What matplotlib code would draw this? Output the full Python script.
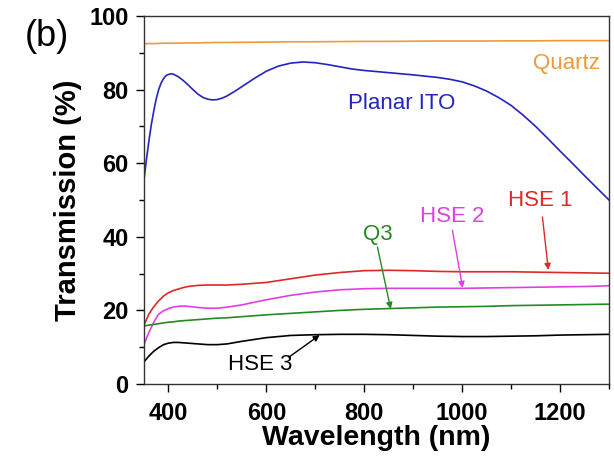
import matplotlib
matplotlib.use("Agg")
import matplotlib.pyplot as plt
from matplotlib.ticker import MultipleLocator

plt.rcParams['font.family'] = ['Liberation Sans', 'DejaVu Sans']

# wavelength grid (nm) for the sample curves
wavelength = [350, 360, 370, 380, 390, 400, 410, 420, 430, 440, 460, 480, 500, 520, 550,
              600, 650, 700, 750, 800, 850, 900, 950, 1000, 1050, 1100, 1150, 1200, 1250, 1300]

# transmission (%)
quartz = [92.5, 92.5, 92.5, 92.55, 92.6, 92.6, 92.6, 92.65, 92.65, 92.7, 92.7, 92.75, 92.8, 92.8, 92.85,
          92.9, 93.0, 93.0, 93.05, 93.1, 93.1, 93.15, 93.2, 93.2, 93.2, 93.25, 93.25, 93.3, 93.3, 93.3]
hse1 = [16.0, 19.0, 21.0, 22.6, 23.9, 24.8, 25.4, 25.8, 26.2, 26.5, 26.8, 26.9, 26.9, 26.9, 27.1,
        27.6, 28.6, 29.6, 30.3, 30.8, 30.9, 30.8, 30.6, 30.5, 30.5, 30.5, 30.4, 30.3, 30.2, 30.1]
hse2 = [10.8, 14.0, 16.8, 19.0, 19.9, 20.5, 20.9, 21.1, 21.2, 21.1, 20.8, 20.6, 20.6, 20.9, 21.5,
        22.9, 24.1, 25.0, 25.6, 25.9, 26.0, 26.0, 26.0, 26.0, 26.1, 26.2, 26.3, 26.4, 26.5, 26.7]
q3 = [15.8, 16.0, 16.2, 16.4, 16.6, 16.8, 16.9, 17.1, 17.2, 17.3, 17.5, 17.7, 17.9, 18.0, 18.3,
      18.8, 19.2, 19.6, 20.0, 20.3, 20.5, 20.7, 20.9, 21.0, 21.1, 21.3, 21.4, 21.5, 21.6, 21.7]
hse3 = [6.0, 7.6, 8.9, 9.9, 10.7, 11.1, 11.3, 11.3, 11.2, 11.1, 10.9, 10.7, 10.7, 10.9, 11.6,
        12.6, 13.2, 13.4, 13.5, 13.5, 13.4, 13.2, 13.0, 12.9, 12.9, 13.0, 13.1, 13.3, 13.4, 13.5]

# planar ITO read on a finer grid (curvy)
ito_wavelength = [350, 355, 360, 365, 370, 375, 380, 385, 390, 395, 400, 405, 410, 420, 430, 440,
                  450, 460, 470, 480, 490, 500, 510, 520, 535, 550, 575, 600, 625, 650, 675, 700,
                  725, 750, 775, 800, 850, 900, 950, 975, 1000, 1025, 1050, 1075, 1100, 1125,
                  1150, 1175, 1200, 1225, 1250, 1275, 1300]
planar_ito = [55.5, 61.0, 66.0, 70.5, 74.2, 77.5, 80.0, 81.8, 83.0, 83.8, 84.1, 84.3, 84.2, 83.5, 82.5, 81.3,
              80.0, 78.8, 77.9, 77.4, 77.2, 77.3, 77.7, 78.3, 79.5, 80.8, 83.0, 85.0, 86.4, 87.2, 87.5, 87.3,
              86.8, 86.2, 85.6, 85.2, 84.6, 84.0, 83.3, 82.8, 82.1, 81.0, 79.6, 77.8, 75.7, 73.0,
              70.0, 66.7, 63.3, 60.0, 56.6, 53.3, 50.0]

c_quartz = '#EE9A3A'
c_ito = '#2424C0'
c_hse1 = '#E02828'
c_hse2 = '#E040E0'
c_q3 = '#228B22'
c_hse3 = 'black'

fig = plt.figure(figsize=(6.14, 4.57), dpi=100)
ax = fig.add_axes([0.2345, 0.1597, 0.7574, 0.8053])

lw = 1.2
ax.plot(wavelength, quartz, color=c_quartz, lw=lw)
ax.plot(ito_wavelength, planar_ito, color=c_ito, lw=lw)
ax.plot(wavelength, hse1, color=c_hse1, lw=lw)
ax.plot(wavelength, hse2, color=c_hse2, lw=lw)
ax.plot(wavelength, q3, color=c_q3, lw=lw)
ax.plot(wavelength, hse3, color=c_hse3, lw=lw)

# curve labels
ax.text(1213, 87, 'Quartz', color=c_quartz, fontsize=16, ha='center', va='center')
ax.text(876, 76.1, 'Planar ITO', color=c_ito, fontsize=16, ha='center', va='center')

arrow_kw = dict(arrowstyle='-|>', lw=1.0, mutation_scale=9, shrinkA=0, shrinkB=0)
ax.text(1160, 50.0, 'HSE 1', color=c_hse1, fontsize=16, ha='center', va='center')
ax.annotate('', xy=(1176, 31.0), xytext=(1164, 45.4),
            arrowprops=dict(color=c_hse1, **arrow_kw))
ax.text(980, 45.6, 'HSE 2', color=c_hse2, fontsize=16, ha='center', va='center')
ax.annotate('', xy=(1001, 26.1), xytext=(980, 41.8),
            arrowprops=dict(color=c_hse2, **arrow_kw))
ax.text(827, 40.5, 'Q3', color=c_q3, fontsize=16, ha='center', va='center')
ax.annotate('', xy=(854, 20.4), xytext=(827, 37.2),
            arrowprops=dict(color=c_q3, **arrow_kw))
ax.text(587, 5.2, 'HSE 3', color=c_hse3, fontsize=16, ha='center', va='center')
ax.annotate('', xy=(709, 13.3), xytext=(646, 7.3),
            arrowprops=dict(color=c_hse3, **arrow_kw))

ax.set_xlim(350, 1300)
ax.set_ylim(0, 100)
ax.xaxis.set_major_locator(MultipleLocator(200))
ax.xaxis.set_minor_locator(MultipleLocator(100))
ax.yaxis.set_major_locator(MultipleLocator(20))
ax.yaxis.set_minor_locator(MultipleLocator(10))
ax.tick_params(which='major', direction='out', length=6, width=1, labelsize=17)
ax.tick_params(which='minor', direction='out', length=3.5, width=1)
ax.tick_params(axis='x', which='major', pad=7)
ax.tick_params(axis='y', which='major', pad=5)
for lab in ax.get_xticklabels() + ax.get_yticklabels():
    lab.set_fontweight('bold')
for sp in ax.spines.values():
    sp.set_color('#333333')
    sp.set_linewidth(1.0)

ax.set_xlabel('Wavelength (nm)', fontsize=20.5, fontweight='bold', labelpad=0)
ax.set_ylabel('Transmission (%)', fontsize=21, fontweight='bold', labelpad=5)

fig.text(0.0765, 0.920, '(b)', fontsize=26, ha='center', va='center')

fig.savefig('out.png', dpi=100)
